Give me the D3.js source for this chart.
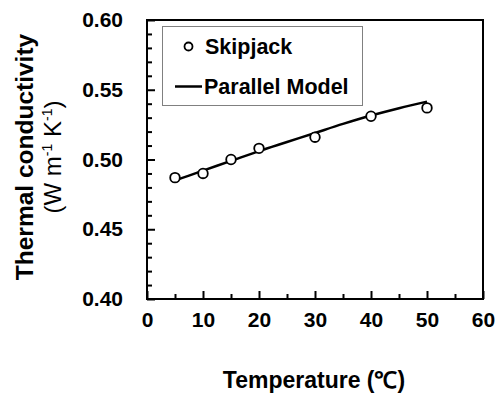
<!DOCTYPE html>
<html><head><meta charset="utf-8">
<script src="https://cdn.jsdelivr.net/npm/d3@7"></script>
<style>
html,body{margin:0;padding:0;background:#fff;}
svg text{font-family:"Liberation Sans",Arial,sans-serif;fill:#000;}
</style></head>
<body><svg id="c" width="497" height="397"></svg>
<script>
// Data
const tempMeasured = [5, 10, 15, 20, 30, 40, 50];
const kSkipjack = [0.487, 0.490, 0.500, 0.508, 0.516, 0.531, 0.537];
const tempModel = [5, 10, 15, 20, 25, 30, 35, 40, 45, 50];
const kParallel = [0.485, 0.492, 0.499, 0.506, 0.5125, 0.519, 0.5255, 0.5315, 0.5368, 0.5415];
const xTickLabels = [0, 10, 20, 30, 40, 50, 60];
const yTickLabels = [0.40, 0.45, 0.50, 0.55, 0.60];
const legendNames = ["Skipjack", "Parallel Model"];

const svg = d3.select("#c");
const L = 147, R = 483, T = 20, B = 299;
const x = d3.scaleLinear().domain([0, 60]).range([L, R]);
const y = d3.scaleLinear().domain([0.40, 0.60]).range([B, T]);

// frame
svg.append("rect").attr("x", L).attr("y", T).attr("width", R - L).attr("height", B - T)
  .attr("fill", "none").attr("stroke", "#000").attr("stroke-width", 2);

// y axis ticks (inside)
const yMinor = d3.range(0, 21).map(i => 0.40 + i * 0.01);
const gy = svg.append("g").attr("transform", `translate(${L},0)`)
  .call(d3.axisRight(y).tickValues(yMinor).tickSize(5).tickFormat(""));
gy.select(".domain").remove();
gy.selectAll(".tick line").attr("stroke", "#000").attr("stroke-width", 2)
  .attr("x2", (d, i) => (i % 5 === 0 ? 8 : 5));
const gyl = svg.append("g").attr("transform", `translate(${L - 24},0)`)
  .call(d3.axisLeft(y).tickValues(yTickLabels).tickSize(0).tickPadding(0).tickFormat(d3.format(".2f")));
gyl.select(".domain").remove();
gyl.selectAll("text").style("font-size", "21px").style("font-family", "Liberation Sans").style("font-weight", "bold").attr("fill", "#000");

// x axis ticks (inside)
const xMinor = d3.range(0, 13).map(i => i * 5);
const gx = svg.append("g").attr("transform", `translate(0,${B})`)
  .call(d3.axisTop(x).tickValues(xMinor).tickSize(5).tickFormat(""));
gx.select(".domain").remove();
gx.selectAll(".tick line").attr("stroke", "#000").attr("stroke-width", 2)
  .attr("y2", (d, i) => (i % 2 === 0 ? -8 : -5));
const gxl = svg.append("g").attr("transform", `translate(0,${B + 13})`)
  .call(d3.axisBottom(x).tickValues(xTickLabels).tickSize(0).tickPadding(0).tickFormat(d3.format("d")));
gxl.select(".domain").remove();
gxl.selectAll("text").style("font-size", "21px").style("font-family", "Liberation Sans").style("font-weight", "bold").attr("fill", "#000");

// model line
svg.append("path").datum(tempModel.map((t, i) => [t, kParallel[i]]))
  .attr("d", d3.line().x(d => x(d[0])).y(d => y(d[1])).curve(d3.curveMonotoneX))
  .attr("fill", "none").attr("stroke", "#000").attr("stroke-width", 2.5);

// points
svg.append("g").selectAll("circle").data(tempMeasured.map((t, i) => [t, kSkipjack[i]]))
  .join("circle").attr("cx", d => x(d[0])).attr("cy", d => y(d[1])).attr("r", 4.8)
  .attr("fill", "#fff").attr("stroke", "#000").attr("stroke-width", 1.8);

// legend
const lg = svg.append("g");
lg.append("rect").attr("x", 162.5).attr("y", 26.5).attr("width", 200).attr("height", 79)
  .attr("fill", "#fff").attr("stroke", "#808080").attr("stroke-width", 1);
lg.append("circle").attr("cx", 188.5).attr("cy", 46.5).attr("r", 4).attr("fill", "#fff")
  .attr("stroke", "#000").attr("stroke-width", 1.8);
lg.append("line").attr("x1", 175).attr("x2", 202).attr("y1", 86.5).attr("y2", 86.5)
  .attr("stroke", "#000").attr("stroke-width", 2.5);
lg.append("text").attr("x", 205).attr("y", 53.5).style("font-size", "21.5px").style("font-weight", "bold").text(legendNames[0]);
lg.append("text").attr("x", 204).attr("y", 93.5).style("font-size", "21.5px").style("font-weight", "bold").text(legendNames[1]);

// axis titles
svg.append("text").attr("x", 314).attr("y", 388).attr("text-anchor", "middle")
  .style("font-size", "23px").style("font-weight", "bold").text("Temperature (\u2103)");
const yt = svg.append("g").attr("transform", "translate(33,157) rotate(-90)");
yt.append("text").attr("text-anchor", "middle").style("font-size", "24.5px").style("font-weight", "bold").text("Thermal conductivity");
const yt2 = yt.append("text").attr("text-anchor", "middle").attr("y", 28).attr("x", 0)
  .style("font-size", "24px").style("font-weight", "normal");
yt2.append("tspan").text("(W m");
yt2.append("tspan").style("font-size", "14px").attr("dy", -9).text("-1");
yt2.append("tspan").attr("dy", 9).text(" K");
yt2.append("tspan").style("font-size", "14px").attr("dy", -9).text("-1");
yt2.append("tspan").attr("dy", 9).text(")");
</script></body></html>
